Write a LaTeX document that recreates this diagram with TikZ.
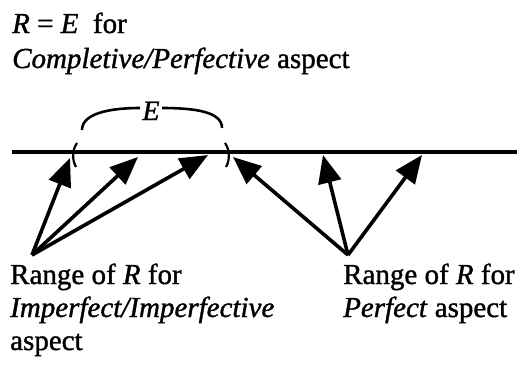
\documentclass[tikz,border=0pt]{standalone}
\usepackage{fontspec}
\setmainfont{Liberation Serif}[
  BoldFont=Liberation Serif, BoldFeatures={FakeBold=1.2},
  BoldItalicFont=Liberation Serif Italic, BoldItalicFeatures={FakeBold=1.2}]
\usetikzlibrary{arrows.meta}
\tikzset{
  lbl/.style={anchor=base west, inner sep=0pt, font=\fontsize{29}{33}\selectfont\bfseries},
  elbl/.style={anchor=base, inner sep=0pt, font=\fontsize{28}{33}\selectfont\bfseries\itshape},
  timeline/.style={line width=3.2pt},
  bracket/.style={line width=2.2pt},
  arcline/.style={line width=2.6pt},
  rarrow/.style={line width=3.6pt, -{Triangle[length=28pt,width=23pt]}}
}
\begin{document}
\begin{tikzpicture}[x=1pt,y=-1pt]
\useasboundingbox (0,0) rectangle (517,368);
% texts
\node[lbl] (t1) at (12,33) {\textit{R} = \textit{E}\ \ for};
\node[lbl] (t2) at (12,68) {\textit{Completive/Perfective} aspect};
\node[lbl] (l1) at (10,284) {Range of \textit{R} for};
\node[lbl] (l2) at (10,317) {\textit{Imperfect/Imperfective}};
\node[lbl] (l3) at (10,350) {aspect};
\node[lbl] (r1) at (343,284) {Range of \textit{R} for};
\node[lbl] (r2) at (343,317) {\textit{Perfect} aspect};
% time line
\coordinate (la) at (12,152);
\coordinate (lb) at (517,152);
\draw[timeline] (la) -- (lb);
% brackets of E
\coordinate (b1t) at (77,143); \coordinate (b1b) at (76,167);
\coordinate (b2t) at (225,143); \coordinate (b2b) at (226,167);
\draw[bracket] (b1t) .. controls (72,150) and (72,160) .. (b1b);
\draw[bracket] (b2t) .. controls (230,150) and (230,160) .. (b2b);
% E arc
\node[elbl] (E) at (151,120) {E};
\coordinate (a1) at (82,130);
\coordinate (a2) at (140,108);
\coordinate (a3) at (162,108);
\coordinate (a4) at (222,128);
\draw[arcline] (a1) .. controls (82,114) and (108,108) .. (a2);
\draw[arcline] (a3) .. controls (196,108) and (222,112) .. (a4);
% arrows
\coordinate (oL) at (32,255);
\coordinate (oR) at (348,255);
\coordinate (p1) at (70,158);
\coordinate (p2) at (138,157);
\coordinate (p3) at (208,155);
\coordinate (q1) at (233,157);
\coordinate (q2) at (323,155);
\coordinate (q3) at (422,155);
\foreach \t in {p1,p2,p3} \draw[rarrow] (oL) -- (\t);
\foreach \t in {q1,q2,q3} \draw[rarrow] (oR) -- (\t);
\end{tikzpicture}
\end{document}
